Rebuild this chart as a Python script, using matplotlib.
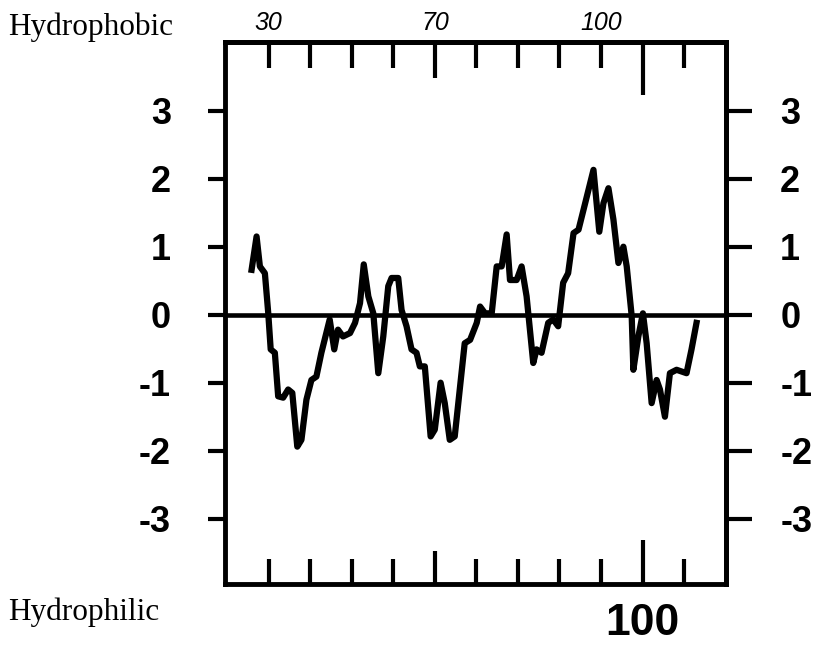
import matplotlib
matplotlib.use("Agg")
import matplotlib.pyplot as plt

# ---- data ----
residue = [5.9, 7.1, 7.9, 9.1, 9.9, 10.5, 11.5, 12.3, 13.5, 14.7, 15.7, 16.9, 17.9,
           19.1, 20.3, 21.5, 22.7, 24.7, 25.8, 26.7, 27.9, 29.6, 30.8, 32.0, 32.9,
           34.0, 35.2, 36.4, 37.6, 38.8, 39.6, 41.2, 42.0, 43.2, 44.4, 45.6, 46.4,
           47.6, 49.0, 50.0, 51.4, 52.4, 53.6, 54.8, 57.2, 58.5, 60.1, 60.9, 62.1,
           63.7, 64.9, 66.1, 67.3, 68.1, 69.7, 70.9, 72.1, 73.7, 74.5, 75.7, 77.3,
           78.5, 79.7, 80.9, 82.1, 83.4, 84.6, 86.2, 88.2, 89.6, 90.6, 91.8, 93.0,
           94.2, 95.4, 96.2, 97.4, 97.8, 99.0, 100.1, 101.0, 102.2, 103.4, 104.2,
           105.4, 106.6, 108.2, 110.6, 111.8, 113.0]
hydropathy = [0.66, 1.15, 0.71, 0.61, 0.03, -0.51, -0.56, -1.20, -1.22, -1.10, -1.15,
              -1.94, -1.84, -1.25, -0.96, -0.91, -0.56, -0.07, -0.51, -0.22, -0.32,
              -0.27, -0.12, 0.17, 0.74, 0.27, 0.02, -0.86, -0.32, 0.42, 0.54, 0.54,
              0.07, -0.17, -0.51, -0.56, -0.76, -0.76, -1.79, -1.69, -1.00, -1.30,
              -1.84, -1.79, -0.42, -0.37, -0.12, 0.12, 0.02, 0.02, 0.71, 0.71, 1.18,
              0.51, 0.51, 0.71, 0.27, -0.71, -0.51, -0.56, -0.12, -0.07, -0.17, 0.47,
              0.61, 1.20, 1.25, 1.64, 2.13, 1.22, 1.64, 1.86, 1.40, 0.76, 1.00, 0.71,
              -0.02, -0.81, -0.32, 0.02, -0.42, -1.30, -0.96, -1.10, -1.50, -0.86,
              -0.81, -0.86, -0.51, -0.12]

y_ticks = [-3, -2, -1, 0, 1, 2, 3]
y_tick_labels = ["-3", "-2", "-1", "0", "1", "2", "3"]
x_ticks = [10, 20, 30, 40, 50, 60, 70, 80, 90, 100, 110]
bottom_tick_labels = ["", "", "", "", "", "", "", "", "", "100", ""]
top_tick_labels = ["30", "", "", "", "70", "", "", "", "100", "", ""]
bottom_long = {50: 24, 100: 32}
top_long = {50: 26, 100: 38}

plt.rcParams["axes.unicode_minus"] = False
plt.rcParams["font.family"] = ["Liberation Sans", "DejaVu Sans"]

fig = plt.figure(figsize=(8.14, 6.45), dpi=100)
ax = fig.add_axes([225 / 814, 61 / 645, 501 / 814, 542 / 645])

ax.axhline(0, color="black", lw=3.3, zorder=2, clip_on=False)
ax.plot(residue, hydropathy, color="black", lw=4.5, zorder=3)

ax.set_xlim(-0.5, 120.1)
ax.set_ylim(-3.96, 4.01)
for s in ax.spines.values():
    s.set_linewidth(3.5)

ax.set_yticks(y_ticks)
ax.set_yticklabels(y_tick_labels, fontsize=26, fontweight="bold")
ax.tick_params(axis="y", direction="out", length=12, width=3, pad=27)

ax.set_xticks(x_ticks)
ax.set_xticklabels(bottom_tick_labels, fontsize=32, fontweight="bold")
ax.tick_params(axis="x", direction="in", length=18, width=3, pad=14)
for t, v in zip(ax.xaxis.get_major_ticks(), x_ticks):
    if v in bottom_long:
        t.tick1line.set_markersize(bottom_long[v])

top = ax.secondary_xaxis("top")
top.set_xticks(x_ticks, labels=top_tick_labels, fontsize=18, fontstyle="italic")
top.tick_params(direction="in", length=19, width=3, pad=5)
for s in top.spines.values():
    s.set_linewidth(3.5)
for t, v in zip(top.xaxis.get_major_ticks(), x_ticks):
    if v in top_long:
        t.tick1line.set_markersize(top_long[v])
        t.tick2line.set_markersize(top_long[v])

right = ax.secondary_yaxis("right")
right.set_yticks(y_ticks, labels=y_tick_labels, fontsize=26, fontweight="bold")
right.tick_params(direction="out", length=19, width=3, pad=20)
for s in right.spines.values():
    s.set_linewidth(3.5)

fig.text(8 / 814, 1 - 35 / 645, "Hydrophobic", family="Liberation Serif",
         fontsize=22.5, va="baseline", ha="left")
fig.text(8 / 814, 1 - 620 / 645, "Hydrophilic", family="Liberation Serif",
         fontsize=22.5, va="baseline", ha="left")

fig.savefig("out.png", dpi=100)
